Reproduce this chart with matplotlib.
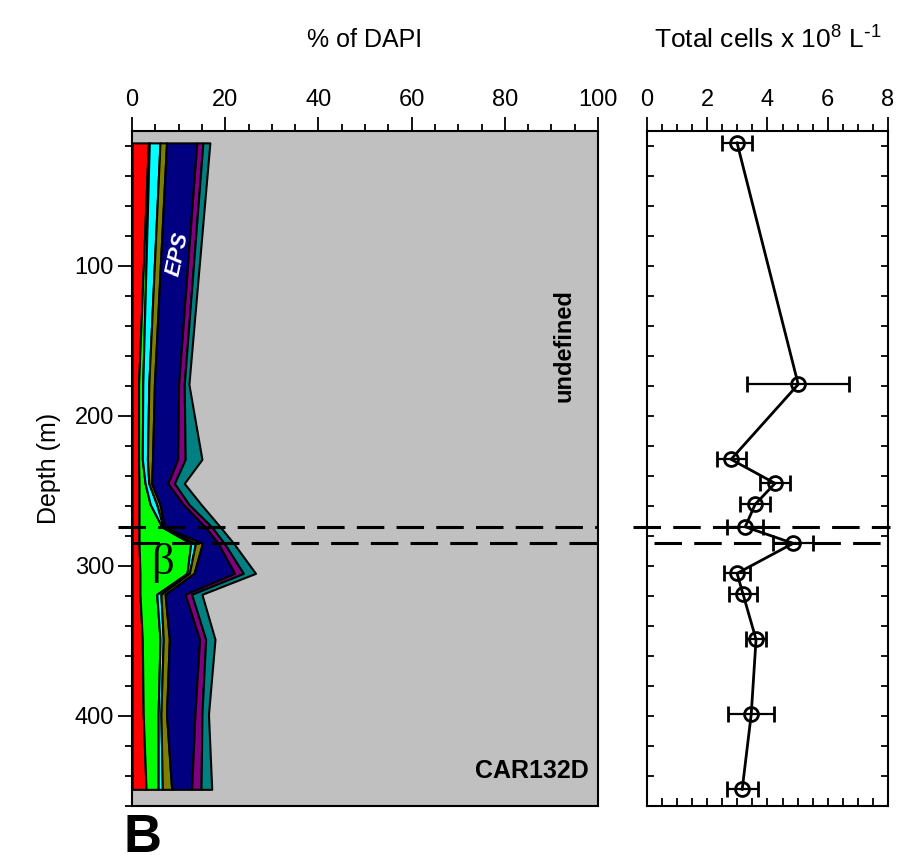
import numpy as np
import matplotlib.pyplot as plt
from matplotlib.ticker import MultipleLocator

plt.rcParams['font.family'] = ['Liberation Sans', 'DejaVu Sans']
plt.rcParams['mathtext.default'] = 'regular'

# Sampling depths (m)
depth = [18, 179, 229, 245, 259, 274, 285, 305, 319, 349, 399, 449]

# % of DAPI per group, stacked from left to right
red = [3.5, 1.4, 1.4, 1.5, 1.5, 1.5, 1.5, 1.7, 1.7, 2.2, 2.4, 3.0]
green = [0.2, 0.9, 0.8, 1.3, 2.4, 4.9, 11.1, 10.1, 3.6, 3.8, 3.2, 2.6]
cyan = [2.3, 1.3, 1.1, 0.8, 1.4, 0.3, 1.0, 0.5, 0.9, 0.7, 0.6, 0.9]
olive = [1.4, 1.2, 1.1, 0.6, 0.7, 0.3, 1.5, 1.0, 0.9, 1.3, 1.2, 2.0]
eps = [6.5, 5.2, 5.4, 3.5, 5.0, 8.7, 3.4, 8.7, 4.3, 6.5, 6.1, 4.3]
purple = [1.3, 1.2, 1.6, 1.4, 1.2, 1.4, 1.3, 1.9, 1.4, 1.3, 1.5, 2.0]
teal = [1.5, 1.0, 3.6, 2.1, 2.6, 1.8, 2.0, 2.6, 2.2, 2.0, 1.4, 2.3]

layers = [red, green, cyan, olive, eps, purple, teal]
colors = ['#FF0000', '#00FF00', '#00FFFF', '#808000', '#000080', '#800080', '#008080']

# Total cells (x 10^8 L^-1) with error
cells = [2.99, 5.02, 2.79, 4.25, 3.59, 3.26, 4.85, 2.99, 3.19, 3.62, 3.46, 3.16]
cells_err = [0.5, 1.7, 0.48, 0.5, 0.5, 0.6, 0.67, 0.42, 0.47, 0.33, 0.77, 0.52]

# depths of the two dashed lines
dash_depths = [274, 284.5]

fig = plt.figure(figsize=(9.1, 8.65), dpi=100)
ax1 = fig.add_axes([0.1451, 0.0684, 0.5121, 0.7803])
ax2 = fig.add_axes([0.7110, 0.0684, 0.2648, 0.7803])

# Left panel: stacked composition
ax1.set_facecolor('#C0C0C0')
depth_arr = np.array(depth)
cum = np.cumsum(np.array(layers), axis=0)
left = np.zeros(len(depth))
for c, col in zip(cum, colors):
    ax1.fill_betweenx(depth_arr, left, c, facecolor=col, edgecolor='black', linewidth=1.5)
    left = c

ax1.set_xlim(0, 100)
ax1.set_ylim(460, 10)
ax1.xaxis.tick_top()
ax1.xaxis.set_major_locator(MultipleLocator(20))
ax1.xaxis.set_minor_locator(MultipleLocator(5))
ax1.yaxis.set_major_locator(MultipleLocator(100))
ax1.yaxis.set_minor_locator(MultipleLocator(20))
ax1.tick_params(axis='x', which='major', direction='out', length=10, width=1.3, labelsize=17, pad=4)
ax1.tick_params(axis='x', which='minor', direction='out', length=5, width=1.3)
ax1.tick_params(axis='y', which='major', direction='out', length=10, width=1.3, labelsize=17, pad=3)
ax1.tick_params(axis='y', which='minor', direction='out', length=5, width=1.3)
ax1.set_ylabel('Depth (m)', fontsize=18, labelpad=10)
for s in ax1.spines.values():
    s.set_linewidth(1.5)

ax1.text(9.8, 92, 'EPS', color='white', fontsize=16, fontweight='bold', fontstyle='italic',
         rotation=78, ha='center', va='center')
ax1.text(92.8, 153, 'undefined', color='black', fontsize=17, fontweight='bold',
         rotation=90, ha='center', va='center')
ax1.text(98, 437, 'CAR132D', color='black', fontsize=18, fontweight='bold',
         ha='right', va='center')
ax1.text(6.6, 298, 'β', color='black', fontsize=32, ha='center', va='center',
         family=['Liberation Serif', 'DejaVu Serif'])

# Right panel: total cells
ax2.errorbar(cells, depth, xerr=cells_err, color='black', marker='o', markersize=10,
             markerfacecolor='none', markeredgewidth=2.0, linewidth=2.0,
             elinewidth=1.6, capsize=6, capthick=1.6)
ax2.set_xlim(0, 8)
ax2.set_ylim(460, 10)
ax2.xaxis.set_major_locator(MultipleLocator(2))
ax2.xaxis.set_minor_locator(MultipleLocator(0.5))
ax2.yaxis.set_major_locator(MultipleLocator(100))
ax2.yaxis.set_minor_locator(MultipleLocator(20))
ax2.tick_params(axis='x', which='major', top=True, bottom=True, labeltop=True, labelbottom=False,
                direction='out', length=10, width=1.3, labelsize=17, pad=4)
ax2.tick_params(axis='x', which='minor', top=True, bottom=True, direction='out', length=5, width=1.3)
ax2.tick_params(axis='y', which='both', left=True, right=True, labelleft=False,
                direction='in', length=5, width=1.3)
for s in ax2.spines.values():
    s.set_linewidth(1.5)
# bottom ticks point inward
for t in ax2.xaxis.get_major_ticks() + ax2.xaxis.get_minor_ticks():
    t.tick1line.set_marker(2)
    t.tick1line.set_markersize(6)

for d, x0 in zip(dash_depths, [-0.03, 0.0]):
    ax1.axhline(d, xmin=x0, xmax=1.0, color='black', linewidth=2.2, dashes=(9, 4), clip_on=False)
for d, x0 in zip(dash_depths, [-0.06, 0.03]):
    ax2.axhline(d, xmin=x0, xmax=1.01, color='black', linewidth=2.2, dashes=(9, 4), clip_on=False)

fig.text(365 / 910, 1 - 40 / 865, '% of DAPI', fontsize=18, ha='center', va='center')
fig.text(768 / 910, 1 - 40 / 865, r'Total cells x 10$^{8}$ L$^{\text{-}1}$', fontsize=19,
         ha='center', va='center')
fig.text(124 / 910, 2 / 865, 'B', fontsize=38, fontweight='bold', ha='left', va='bottom')

fig.savefig('out.png', dpi=100)
